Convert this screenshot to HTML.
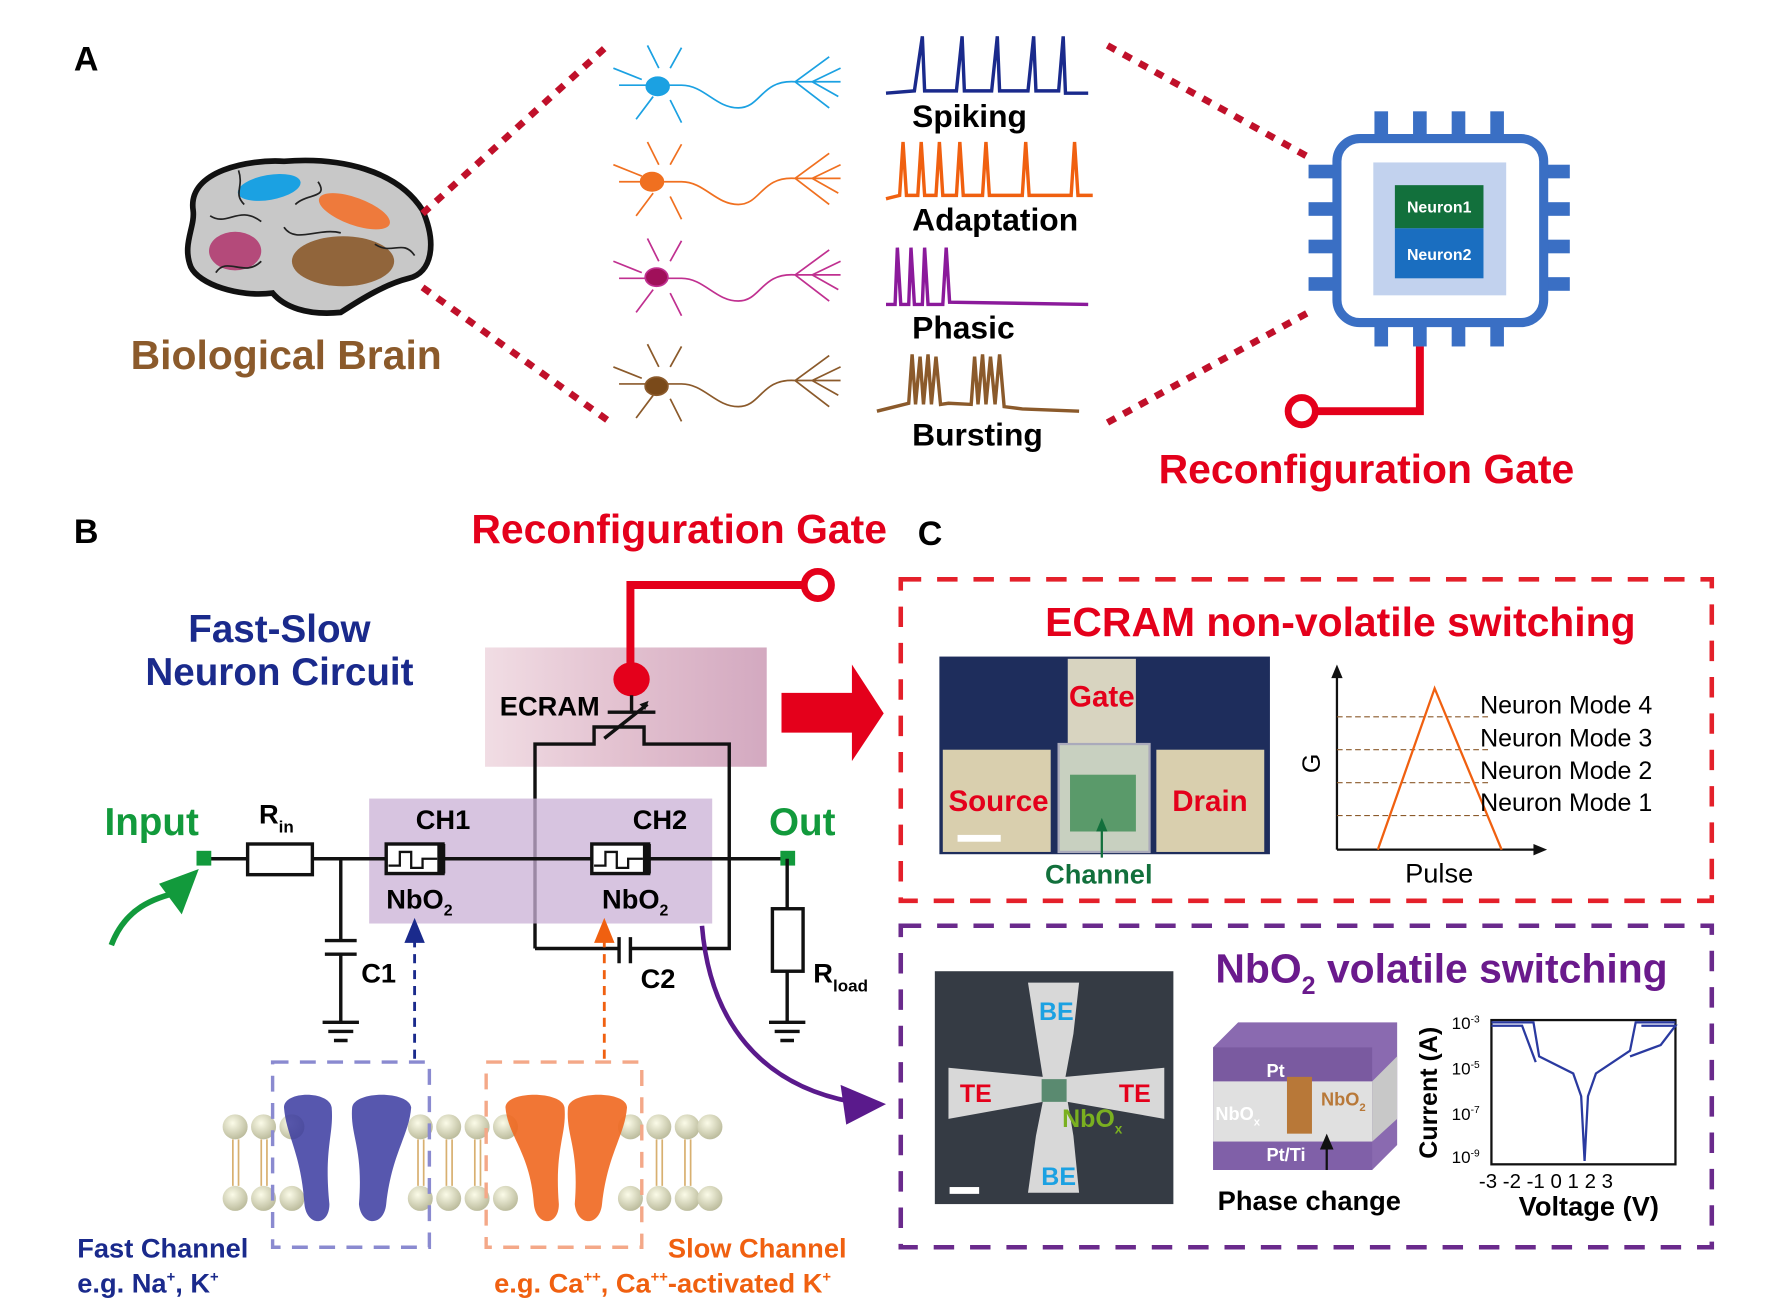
<!DOCTYPE html>
<html><head><meta charset="utf-8"><style>
html,body{margin:0;padding:0;background:#fff;}
svg{display:block}
text{font-family:"Liberation Sans",Arial,sans-serif;font-weight:bold}
</style></head><body>
<svg width="1772" height="1312" viewBox="0 0 1560 1155" preserveAspectRatio="none" xmlns="http://www.w3.org/2000/svg">
<defs>
<linearGradient id="pk" x1="0" x2="1"><stop offset="0" stop-color="#f1dde4"/><stop offset="0.5" stop-color="#e2c0cf"/><stop offset="1" stop-color="#d3a9c0"/></linearGradient>
<radialGradient id="bead" cx="0.4" cy="0.35" r="0.7"><stop offset="0" stop-color="#fbfbe8"/><stop offset="1" stop-color="#b8b898"/></radialGradient>
</defs>
<!-- A -->
<text x="65" y="62" font-size="30">A</text>
<path d="M170,185 C165,150 220,140 250,142 C300,138 350,150 372,185 C385,215 380,240 360,245 C340,250 320,262 300,275 C270,278 250,270 240,258 C210,262 175,250 168,235 C160,215 172,200 170,185 Z" fill="#c8c8c8" stroke="#111" stroke-width="5"/>
<ellipse cx="237" cy="165" rx="28" ry="11" fill="#1ba1e2" transform="rotate(-10 237 165)"/>
<ellipse cx="312" cy="186" rx="33" ry="12" fill="#ee7a3c" transform="rotate(20 312 186)"/>
<ellipse cx="207" cy="221" rx="23" ry="17" fill="#b44a7a"/>
<ellipse cx="302" cy="230" rx="45" ry="22" fill="#8b5a2b" opacity="0.9"/>
<path d="M185,190 C200,200 210,180 230,195 M250,200 C260,215 280,200 300,205 M190,240 C200,225 215,245 230,230 M260,180 C270,170 290,175 280,160 M330,215 C345,225 355,210 365,225 M210,150 C215,165 205,170 215,180" stroke="#222" stroke-width="1.5" fill="none"/>
<text x="115" y="325" font-size="36" fill="#8b5a2b">Biological Brain</text>
<line x1="372" y1="188" x2="535" y2="40" stroke="#c0102a" stroke-width="6" stroke-dasharray="8,8"/>
<line x1="372" y1="253" x2="535" y2="370" stroke="#c0102a" stroke-width="6" stroke-dasharray="8,8"/>
<line x1="975" y1="40" x2="1155" y2="140" stroke="#c0102a" stroke-width="6" stroke-dasharray="8,8"/>
<line x1="975" y1="372" x2="1152" y2="275" stroke="#c0102a" stroke-width="6" stroke-dasharray="8,8"/>
<!-- neurons -->
<g fill="none" stroke-width="1.5">
<g stroke="#1ba1e2"><path d="M545,75 L600,75 C620,75 630,95 650,95 C670,95 670,70 700,72 L740,72 M580,60 L570,40 M590,60 L600,42 M575,85 L560,105 M590,88 L600,108 M565,70 L540,60 M700,72 L730,50 M700,72 L730,95 M715,72 L740,60 M715,72 L738,85"/><ellipse cx="579" cy="76" rx="10" ry="8" fill="#1ba1e2"/></g>
<g stroke="#f07020"><path d="M545,160 L600,160 C620,160 630,180 650,180 C670,180 670,155 700,157 L740,157 M580,145 L570,125 M590,145 L600,127 M575,170 L560,190 M590,173 L600,193 M565,155 L540,145 M700,157 L730,135 M700,157 L730,180 M715,157 L740,145 M715,157 L738,170"/><ellipse cx="574" cy="160" rx="10" ry="8" fill="#f07020"/></g>
<g stroke="#c03090"><path d="M545,245 L600,245 C620,245 630,265 650,265 C670,265 670,240 700,242 L740,242 M580,230 L570,210 M590,230 L600,212 M575,255 L560,275 M590,258 L600,278 M565,240 L540,230 M700,242 L730,220 M700,242 L730,265 M715,242 L740,230 M715,242 L738,255"/><ellipse cx="578" cy="244" rx="10" ry="8" fill="#a0105a"/></g>
<g stroke="#8b5a2b"><path d="M545,338 L600,338 C620,338 630,358 650,358 C670,358 670,333 700,335 L740,335 M580,323 L570,303 M590,323 L600,305 M575,348 L560,368 M590,351 L600,371 M565,333 L540,323 M700,335 L730,313 M700,335 L730,358 M715,335 L740,323 M715,335 L738,348"/><ellipse cx="578" cy="340" rx="10" ry="8" fill="#7a4a1a"/></g>
</g>
<!-- traces -->
<path d="M780,82 L805,80 L812,32 L814,80 L842,80 L847,32 L849,80 L873,80 L878,32 L880,80 L905,80 L910,32 L912,80 L932,80 L936,32 L938,82 L958,82" fill="none" stroke="#1a2a8c" stroke-width="3"/>
<text x="803" y="112" font-size="28">Spiking</text>
<path d="M780,175 L792,172 L795,125 L798,172 L808,172 L811,125 L814,172 L824,172 L827,125 L830,172 L842,172 L845,125 L848,172 L865,172 L868,125 L871,172 L900,172 L903,125 L906,172 L943,172 L946,125 L949,172 L962,172" fill="none" stroke="#f06010" stroke-width="3"/>
<text x="803" y="203" font-size="28">Adaptation</text>
<path d="M780,268 L788,268 L790,218 L793,268 L800,268 L802,218 L805,268 L812,268 L814,218 L817,268 L830,268 L833,218 L836,266 L958,268" fill="none" stroke="#8b1a9b" stroke-width="3"/>
<text x="803" y="298" font-size="28">Phasic</text>
<path d="M772,362 L800,355 L803,312 L806,356 L810,314 L813,356 L817,312 L820,356 L824,314 L828,356 L835,355 L855,356 L858,314 L861,356 L865,312 L868,356 L872,314 L876,356 L880,312 L884,358 L900,360 L950,362" fill="none" stroke="#8b5a2b" stroke-width="3"/>
<text x="803" y="392" font-size="28">Bursting</text>
<!-- chip -->
<g fill="#3a6fc4">
<rect x="1210" y="98" width="12" height="24"/><rect x="1244" y="98" width="12" height="24"/><rect x="1278" y="98" width="12" height="24"/><rect x="1312" y="98" width="12" height="24"/>
<rect x="1210" y="283" width="12" height="22"/><rect x="1244" y="283" width="12" height="22"/><rect x="1278" y="283" width="12" height="22"/><rect x="1312" y="283" width="12" height="22"/>
<rect x="1152" y="145" width="25" height="12"/><rect x="1152" y="178" width="25" height="12"/><rect x="1152" y="211" width="25" height="12"/><rect x="1152" y="244" width="25" height="12"/>
<rect x="1357" y="145" width="25" height="12"/><rect x="1357" y="178" width="25" height="12"/><rect x="1357" y="211" width="25" height="12"/><rect x="1357" y="244" width="25" height="12"/>
</g>
<rect x="1177" y="122" width="182" height="162" rx="20" fill="#fff" stroke="#3a6fc4" stroke-width="8"/>
<rect x="1209" y="143" width="117" height="117" fill="#c2d2ee"/>
<rect x="1228" y="163" width="78" height="38" fill="#12703c"/>
<rect x="1228" y="201" width="78" height="44" fill="#1a6ec0"/>
<text x="1267" y="187" font-size="14" fill="#fff" text-anchor="middle">Neuron1</text>
<text x="1267" y="229" font-size="14" fill="#fff" text-anchor="middle">Neuron2</text>
<path d="M1250,305 L1250,362 L1158,362" fill="none" stroke="#e4001b" stroke-width="7"/>
<circle cx="1146" cy="362" r="12" fill="#fff" stroke="#e4001b" stroke-width="6"/>
<text x="1020" y="425" font-size="36" fill="#e4001b">Reconfiguration Gate</text>
<!-- B -->
<text x="65" y="478" font-size="30">B</text>
<text x="415" y="478" font-size="36" fill="#e4001b">Reconfiguration Gate</text>
<text x="808" y="480" font-size="30">C</text>
<text x="246" y="565" font-size="34" fill="#1a2a8c" text-anchor="middle">Fast-Slow</text>
<text x="246" y="603" font-size="34" fill="#1a2a8c" text-anchor="middle">Neuron Circuit</text>
<rect x="427" y="570" width="248" height="105" fill="url(#pk)"/>
<path d="M707,515 L555,515 L555,595" fill="none" stroke="#e4001b" stroke-width="7"/>
<circle cx="720" cy="515" r="12" fill="#fff" stroke="#e4001b" stroke-width="6"/>
<ellipse cx="556" cy="598" rx="16" ry="15" fill="#e4001b"/>
<text x="440" y="630" font-size="24">ECRAM</text>
<path d="M556,612 L556,627 M535,627 L577,627 M471,835 L471,655 L523,655 L523,640 L567,640 L567,655 L642,655 L642,835 L555,835 M545,835 L471,835 M532,650 L570,620" fill="none" stroke="#111" stroke-width="3"/>
<path d="M571,617 L563,620 L568,625Z" fill="#111"/>
<path d="M688,610 L750,610 L750,585 L778,628 L750,670 L750,645 L688,645Z" fill="#e4001b"/>
<rect x="325" y="703" width="302" height="110" fill="#c9b0d6" opacity="0.75"/>
<text x="92" y="735" font-size="34" fill="#129a3c">Input</text>
<text x="677" y="735" font-size="34" fill="#129a3c">Out</text>
<line x1="180" y1="756" x2="693" y2="756" stroke="#111" stroke-width="3"/>
<rect x="173" y="749" width="13" height="13" fill="#129a3c"/>
<rect x="687" y="749" width="13" height="13" fill="#129a3c"/>
<rect x="218" y="743" width="57" height="27" fill="#fff" stroke="#111" stroke-width="3"/>
<text x="228" y="725" font-size="24">R<tspan font-size="15" dy="8">in</tspan></text>
<path d="M300,756 L300,828 M286,828 L314,828 M286,840 L314,840 M300,840 L300,900 M284,900 L316,900 M289,908 L311,908 M294,916 L306,916" stroke="#111" stroke-width="3" fill="none"/>
<text x="318" y="865" font-size="24">C1</text>
<g stroke="#111" stroke-width="3" fill="#fff"><rect x="340" y="743" width="50" height="26"/><rect x="521" y="743" width="50" height="26"/></g>
<rect x="385" y="743" width="7" height="26" fill="#111"/><rect x="566" y="743" width="7" height="26" fill="#111"/>
<path d="M342,762 L352,762 L352,750 L362,750 L362,764 L372,764 L372,756 L385,756 M523,762 L533,762 L533,750 L543,750 L543,764 L553,764 L553,756 L566,756" fill="none" stroke="#111" stroke-width="2"/>
<text x="366" y="730" font-size="24">CH1</text><text x="557" y="730" font-size="24">CH2</text>
<text x="340" y="800" font-size="24">NbO<tspan font-size="14" dy="6">2</tspan></text>
<text x="530" y="800" font-size="24">NbO<tspan font-size="14" dy="6">2</tspan></text>
<path d="M545,825 L545,848 M555,825 L555,848" stroke="#111" stroke-width="3"/>
<text x="564" y="870" font-size="24">C2</text>
<path d="M693,756 L693,800 M693,855 L693,900 M677,900 L709,900 M682,908 L704,908 M687,916 L699,916" stroke="#111" stroke-width="3"/>
<rect x="680" y="800" width="27" height="55" fill="#fff" stroke="#111" stroke-width="3"/>
<text x="716" y="865" font-size="24">R<tspan font-size="15" dy="8">load</tspan></text>
<path d="M98,832 C110,800 135,790 160,785" fill="none" stroke="#129a3c" stroke-width="5"/>
<path d="M175,765 L140,778 L160,805Z" fill="#129a3c"/>
<line x1="365" y1="932" x2="365" y2="828" stroke="#1a2a8c" stroke-width="2.5" stroke-dasharray="8,6"/>
<path d="M365,808 L356,830 L374,830Z" fill="#1a2a8c"/>
<line x1="532" y1="932" x2="532" y2="828" stroke="#f06010" stroke-width="2.5" stroke-dasharray="8,6"/>
<path d="M532,808 L523,830 L541,830Z" fill="#f06010"/>
<path d="M618,815 C625,900 670,955 750,970" fill="none" stroke="#5a1a8c" stroke-width="4"/>
<path d="M780,972 L740,955 L745,990Z" fill="#5a1a8c"/>
<!-- membrane -->
<g id="beads">
<g fill="url(#bead)">
<circle cx="207" cy="992" r="11"/><circle cx="232" cy="992" r="11"/><circle cx="257" cy="992" r="11"/><circle cx="370" cy="992" r="11"/><circle cx="395" cy="992" r="11"/><circle cx="420" cy="992" r="11"/><circle cx="445" cy="992" r="11"/><circle cx="555" cy="992" r="11"/><circle cx="580" cy="992" r="11"/><circle cx="605" cy="992" r="11"/><circle cx="625" cy="992" r="11"/>
<circle cx="207" cy="1055" r="11"/><circle cx="232" cy="1055" r="11"/><circle cx="257" cy="1055" r="11"/><circle cx="370" cy="1055" r="11"/><circle cx="395" cy="1055" r="11"/><circle cx="420" cy="1055" r="11"/><circle cx="445" cy="1055" r="11"/><circle cx="555" cy="1055" r="11"/><circle cx="580" cy="1055" r="11"/><circle cx="605" cy="1055" r="11"/><circle cx="625" cy="1055" r="11"/>
</g>
<path d="M205,1003 L205,1044 M210,1003 L210,1044 M230,1003 L230,1044 M235,1003 L235,1044 M368,1003 L368,1044 M373,1003 L373,1044 M393,1003 L393,1044 M398,1003 L398,1044 M418,1003 L418,1044 M423,1003 L423,1044 M578,1003 L578,1044 M583,1003 L583,1044 M603,1003 L603,1044 M608,1003 L608,1044" stroke="#d8b070" stroke-width="1.5"/>
</g>
<g fill="#3a3aa0" opacity="0.85">
<path d="M250,975 C250,960 290,960 292,975 C294,1000 285,1010 290,1060 C290,1080 270,1080 268,1060 C265,1015 252,1000 250,975Z"/>
<path d="M310,975 C312,960 360,960 362,975 C360,1000 345,1015 340,1060 C338,1080 318,1080 316,1060 C320,1010 308,1000 310,975Z"/>
</g>
<g fill="#f06820" opacity="0.9">
<path d="M445,975 C445,960 495,960 497,975 C499,1000 488,1010 492,1060 C492,1080 472,1080 470,1060 C467,1015 447,1000 445,975Z"/>
<path d="M500,975 C502,960 552,960 552,975 C550,1000 535,1015 530,1060 C528,1080 508,1080 506,1060 C510,1010 498,1000 500,975Z"/>
</g>
<rect x="240" y="935" width="138" height="163" fill="none" stroke="#8a8ad0" stroke-width="3" stroke-dasharray="14,10"/>
<rect x="428" y="935" width="137" height="163" fill="none" stroke="#f4a888" stroke-width="3" stroke-dasharray="14,10"/>
<text x="68" y="1107" font-size="24" fill="#1a2a8c">Fast Channel</text>
<text x="68" y="1138" font-size="24" fill="#1a2a8c">e.g. Na<tspan font-size="13" dy="-10">+</tspan><tspan dy="10">, K</tspan><tspan font-size="13" dy="-10">+</tspan></text>
<text x="588" y="1107" font-size="24" fill="#f06010">Slow Channel</text>
<text x="435" y="1138" font-size="24" fill="#f06010">e.g. Ca<tspan font-size="13" dy="-10">++</tspan><tspan dy="10">, Ca</tspan><tspan font-size="13" dy="-10">++</tspan><tspan dy="10">-activated K</tspan><tspan font-size="13" dy="-10">+</tspan></text>
<!-- C ECRAM -->
<rect x="793" y="510" width="714" height="283" fill="none" stroke="#e4202a" stroke-width="4" stroke-dasharray="18,14"/>
<text x="1180" y="560" font-size="36" fill="#e4001b" text-anchor="middle">ECRAM non-volatile switching</text>
<rect x="827" y="578" width="291" height="174" fill="#1e2d5c"/>
<rect x="940" y="580" width="60" height="80" fill="#d8d4c0"/>
<rect x="830" y="660" width="95" height="90" fill="#d9cfae"/>
<rect x="1018" y="660" width="95" height="90" fill="#d9cfae"/>
<rect x="932" y="655" width="80" height="95" fill="#c8d0c0" stroke="#aab" stroke-width="2"/>
<rect x="942" y="682" width="58" height="50" fill="#5a9a6a"/>
<rect x="843" y="735" width="38" height="6" fill="#fff"/>
<text x="970" y="622" font-size="26" fill="#e4001b" text-anchor="middle">Gate</text>
<text x="835" y="714" font-size="26" fill="#e4001b">Source</text>
<text x="1032" y="714" font-size="26" fill="#e4001b">Drain</text>
<path d="M970,755 L970,725" stroke="#12703c" stroke-width="2"/><path d="M970,720 L965,732 L975,732Z" fill="#12703c"/>
<text x="920" y="778" font-size="24" fill="#12703c">Channel</text>
<path d="M1177,748 L1177,592 M1177,748 L1355,748" stroke="#111" stroke-width="2" fill="none"/>
<path d="M1177,585 L1172,597 L1182,597Z M1362,748 L1350,743 L1350,753Z" fill="#111"/>
<g stroke="#8b5a2b" stroke-width="1" stroke-dasharray="5,3"><line x1="1177" y1="631" x2="1310" y2="631"/><line x1="1177" y1="660" x2="1310" y2="660"/><line x1="1177" y1="689" x2="1310" y2="689"/><line x1="1177" y1="718" x2="1310" y2="718"/></g>
<path d="M1213,748 L1263,606 L1322,748" fill="none" stroke="#f06010" stroke-width="2"/>
<g font-size="22" font-weight="normal" style="font-weight:normal"><text x="1303" y="628" style="font-weight:normal">Neuron Mode 4</text><text x="1303" y="657" style="font-weight:normal">Neuron Mode 3</text><text x="1303" y="686" style="font-weight:normal">Neuron Mode 2</text><text x="1303" y="714" style="font-weight:normal">Neuron Mode 1</text></g>
<text x="1162" y="672" font-size="22" transform="rotate(-90 1162 672)" text-anchor="middle" style="font-weight:normal">G</text>
<text x="1237" y="777" font-size="24" style="font-weight:normal">Pulse</text>
<!-- C NbO2 -->
<rect x="793" y="815" width="714" height="283" fill="none" stroke="#6a2a8c" stroke-width="4" stroke-dasharray="18,14"/>
<text x="1070" y="865" font-size="36" fill="#6a1a8c">NbO<tspan font-size="22" dy="10">2</tspan><tspan dy="-10"> volatile switching</tspan></text>
<rect x="823" y="855" width="210" height="205" fill="#353b44"/>
<path d="M905,865 L950,865 L945,910 L938,948 L1025,940 L1025,985 L940,970 L945,1000 L950,1050 L905,1050 L912,1000 L918,970 L835,985 L835,940 L918,948 L912,910Z" fill="#d8d8d8"/>
<rect x="917" y="950" width="22" height="20" fill="#5a8a70"/>
<rect x="836" y="1045" width="26" height="6" fill="#fff"/>
<text x="930" y="898" font-size="22" fill="#1ba1e2" text-anchor="middle">BE</text>
<text x="932" y="1043" font-size="22" fill="#1ba1e2" text-anchor="middle">BE</text>
<text x="845" y="970" font-size="22" fill="#e4001b">TE</text>
<text x="985" y="970" font-size="22" fill="#e4001b">TE</text>
<text x="935" y="992" font-size="22" fill="#7ab020">NbO<tspan font-size="12" dy="6">x</tspan></text>
<path d="M1068,922 L1090,900 L1230,900 L1230,1008 L1208,1030 L1068,1030Z" fill="#8a6ab0"/>
<path d="M1068,922 L1208,922 L1208,952 L1068,952Z" fill="#7a5aa0"/>
<path d="M1068,952 L1208,952 L1208,1005 L1068,1005Z" fill="#e0e0e0"/>
<path d="M1208,952 L1230,930 L1230,985 L1208,1005Z" fill="#c8c8c8"/>
<path d="M1068,1005 L1208,1005 L1208,1030 L1068,1030Z" fill="#8060a8"/>
<rect x="1133" y="948" width="22" height="50" fill="#b87838"/>
<text x="1115" y="948" font-size="16" fill="#fff">Pt</text>
<text x="1070" y="986" font-size="16" fill="#fff">NbO<tspan font-size="10" dy="5">x</tspan></text>
<text x="1163" y="973" font-size="16" fill="#b87838">NbO<tspan font-size="10" dy="5">2</tspan></text>
<text x="1115" y="1022" font-size="16" fill="#fff">Pt/Ti</text>
<path d="M1168,1030 L1168,1005" stroke="#111" stroke-width="2"/><path d="M1168,998 L1162,1012 L1174,1012Z" fill="#111"/>
<text x="1072" y="1065" font-size="24">Phase change</text>
<rect x="1313" y="898" width="162" height="127" fill="#fff" stroke="#111" stroke-width="2"/>
<path d="M1313,900 L1350,900 L1355,930 L1385,945 L1392,965 L1395,1022 L1398,965 L1405,945 L1435,925 L1440,900 L1475,900 M1313,903 L1340,903 L1352,935 M1445,903 L1475,903 L1462,920 L1435,930" fill="none" stroke="#2a3aa0" stroke-width="2"/>
<g font-size="15" style="font-weight:normal"><text x="1278" y="906" style="font-weight:normal">10<tspan font-size="9" dy="-6">-3</tspan></text><text x="1278" y="946" style="font-weight:normal">10<tspan font-size="9" dy="-6">-5</tspan></text><text x="1278" y="986" style="font-weight:normal">10<tspan font-size="9" dy="-6">-7</tspan></text><text x="1278" y="1024" style="font-weight:normal">10<tspan font-size="9" dy="-6">-9</tspan></text></g>
<text x="1302" y="1046" font-size="18" style="font-weight:normal">-3 -2 -1 0  1  2  3</text>
<text x="1265" y="962" font-size="22" transform="rotate(-90 1265 962)" text-anchor="middle">Current (A)</text>
<text x="1337" y="1070" font-size="24">Voltage (V)</text>
</svg>
</body></html>
